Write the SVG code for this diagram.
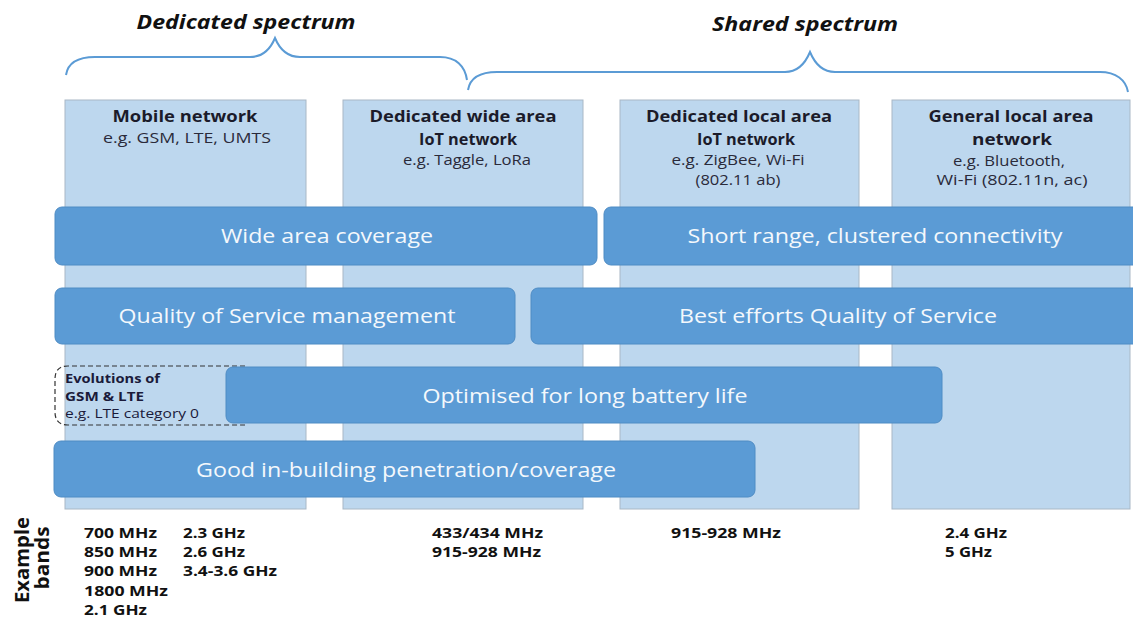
<svg xmlns="http://www.w3.org/2000/svg" width="1133" height="619" viewBox="0 0 1133 619">
<defs>
<style>
.col{fill:#bdd7ee;stroke:#a9b8c6;stroke-width:1}
.bar{fill:#5b9bd5;stroke:#4f8cc4;stroke-width:1}
text{font-family:"Open Sans","Liberation Sans",sans-serif}
.bt{font-size:20px;fill:#f4f8fc;text-anchor:middle}
.hd{font-size:15.5px;font-weight:bold;fill:#1b1b2a;text-anchor:middle}
.eg{font-size:14.5px;fill:#2a2a3a;text-anchor:middle}
.brace{fill:none;stroke:#5b9bd5;stroke-width:2}
.sp{font-size:20px;font-weight:bold;font-style:italic;fill:#111;text-anchor:middle}
.bd{font-size:14px;font-weight:bold;fill:#111}
.ev{font-size:12.5px;font-weight:bold;fill:#1a1a3a}
.eb{font-size:19px;font-weight:bold;fill:#111;text-anchor:middle}
</style>
</defs>
<g id="braces">
<text class="sp" x="246" y="29" textLength="219" lengthAdjust="spacingAndGlyphs">Dedicated spectrum</text>
<path class="brace" d="M66,75 C68,62 78,57 95,57 L250,57 C262,57 270,50 275,38 C280,50 288,57 300,57 L440,57 C456,57 465,66 467,80"/>
<text class="sp" x="805" y="31" textLength="186" lengthAdjust="spacingAndGlyphs">Shared spectrum</text>
<path class="brace" d="M468,90 C470,78 480,72 497,72 L785,72 C797,72 805,64 810,52 C815,64 823,72 835,72 L1100,72 C1116,72 1126,80 1128,92"/>
</g>
<g id="col-mobile">
<rect class="col" x="65" y="100" width="241" height="409"/>
<text class="hd" x="185" y="122" textLength="145" lengthAdjust="spacingAndGlyphs">Mobile network</text>
<text class="eg" x="187" y="143" textLength="168" lengthAdjust="spacingAndGlyphs">e.g. GSM, LTE, UMTS</text>
</g>
<g id="col-widearea">
<rect class="col" x="343" y="100" width="240" height="409"/>
<text class="hd" x="463" y="122" textLength="187" lengthAdjust="spacingAndGlyphs">Dedicated wide area</text>
<text class="hd" x="468" y="145" textLength="98" lengthAdjust="spacingAndGlyphs">IoT network</text>
<text class="eg" x="467" y="165" textLength="128" lengthAdjust="spacingAndGlyphs">e.g. Taggle, LoRa</text>
</g>
<g id="col-localiot">
<rect class="col" x="620" y="100" width="239" height="409"/>
<text class="hd" x="739" y="122" textLength="186" lengthAdjust="spacingAndGlyphs">Dedicated local area</text>
<text class="hd" x="746" y="145" textLength="98" lengthAdjust="spacingAndGlyphs">IoT network</text>
<text class="eg" x="738" y="165" textLength="133" lengthAdjust="spacingAndGlyphs">e.g. ZigBee, Wi-Fi</text>
<text class="eg" x="738" y="185" textLength="85" lengthAdjust="spacingAndGlyphs">(802.11 ab)</text>
</g>
<g id="col-general">
<rect class="col" x="892" y="100" width="238" height="409"/>
<text class="hd" x="1011" y="122" textLength="165" lengthAdjust="spacingAndGlyphs">General local area</text>
<text class="hd" x="1012" y="145" textLength="80" lengthAdjust="spacingAndGlyphs">network</text>
<text class="eg" x="1009" y="166" textLength="112" lengthAdjust="spacingAndGlyphs">e.g. Bluetooth,</text>
<text class="eg" x="1012" y="185" textLength="151" lengthAdjust="spacingAndGlyphs">Wi-Fi (802.11n, ac)</text>
</g>
<g id="bar-wide">
<rect class="bar" x="55" y="207" width="542" height="58" rx="7"/>
<text class="bt" x="327" y="243" textLength="212" lengthAdjust="spacingAndGlyphs">Wide area coverage</text>
</g>
<g id="bar-short">
<rect class="bar" x="604" y="207" width="545" height="58" rx="7"/>
<text class="bt" x="875" y="243" textLength="375" lengthAdjust="spacingAndGlyphs">Short range, clustered connectivity</text>
</g>
<g id="bar-qos">
<rect class="bar" x="55" y="288" width="460" height="56" rx="7"/>
<text class="bt" x="287" y="323" textLength="337" lengthAdjust="spacingAndGlyphs">Quality of Service management</text>
</g>
<g id="bar-best">
<rect class="bar" x="531" y="288" width="615" height="56" rx="7"/>
<text class="bt" x="838" y="323" textLength="318" lengthAdjust="spacingAndGlyphs">Best efforts Quality of Service</text>
</g>
<g id="evolutions">
<path d="M245,366 L68,366 Q55,366 55,379 L55,412 Q55,425 68,425 L245,425" fill="none" stroke="#333" stroke-width="1.2" stroke-dasharray="5,3"/>
<text class="ev" x="65" y="383" textLength="95" lengthAdjust="spacingAndGlyphs">Evolutions of</text>
<text class="ev" x="65" y="401" textLength="79" lengthAdjust="spacingAndGlyphs">GSM &amp; LTE</text>
<text class="ev" x="65" y="418" style="font-weight:normal" textLength="134" lengthAdjust="spacingAndGlyphs">e.g. LTE category 0</text>
</g>
<g id="bar-battery">
<rect class="bar" x="226" y="367" width="716" height="56" rx="7"/>
<text class="bt" x="585" y="403" textLength="325" lengthAdjust="spacingAndGlyphs">Optimised for long battery life</text>
</g>
<g id="bar-building">
<rect class="bar" x="54" y="441" width="701" height="56" rx="7"/>
<text class="bt" x="406" y="477" textLength="420" lengthAdjust="spacingAndGlyphs">Good in-building penetration/coverage</text>
</g>
<g id="bands">
<text class="eb" transform="translate(29,560) rotate(-90)" textLength="86" lengthAdjust="spacingAndGlyphs">Example</text>
<text class="eb" transform="translate(49,558) rotate(-90)" textLength="63" lengthAdjust="spacingAndGlyphs">bands</text>
<text class="bd" x="84" y="538" textLength="73" lengthAdjust="spacingAndGlyphs">700 MHz</text>
<text class="bd" x="84" y="557" textLength="73" lengthAdjust="spacingAndGlyphs">850 MHz</text>
<text class="bd" x="84" y="576" textLength="73" lengthAdjust="spacingAndGlyphs">900 MHz</text>
<text class="bd" x="84" y="596" textLength="84" lengthAdjust="spacingAndGlyphs">1800 MHz</text>
<text class="bd" x="84" y="615" textLength="63" lengthAdjust="spacingAndGlyphs">2.1 GHz</text>
<text class="bd" x="183" y="538" textLength="62" lengthAdjust="spacingAndGlyphs">2.3 GHz</text>
<text class="bd" x="183" y="557" textLength="62" lengthAdjust="spacingAndGlyphs">2.6 GHz</text>
<text class="bd" x="183" y="576" textLength="94" lengthAdjust="spacingAndGlyphs">3.4-3.6 GHz</text>
<text class="bd" x="432" y="538" textLength="111" lengthAdjust="spacingAndGlyphs">433/434 MHz</text>
<text class="bd" x="432" y="557" textLength="109" lengthAdjust="spacingAndGlyphs">915-928 MHz</text>
<text class="bd" x="671" y="538" textLength="110" lengthAdjust="spacingAndGlyphs">915-928 MHz</text>
<text class="bd" x="945" y="538" textLength="62" lengthAdjust="spacingAndGlyphs">2.4 GHz</text>
<text class="bd" x="945" y="557" textLength="47" lengthAdjust="spacingAndGlyphs">5 GHz</text>
</g>
</svg>
